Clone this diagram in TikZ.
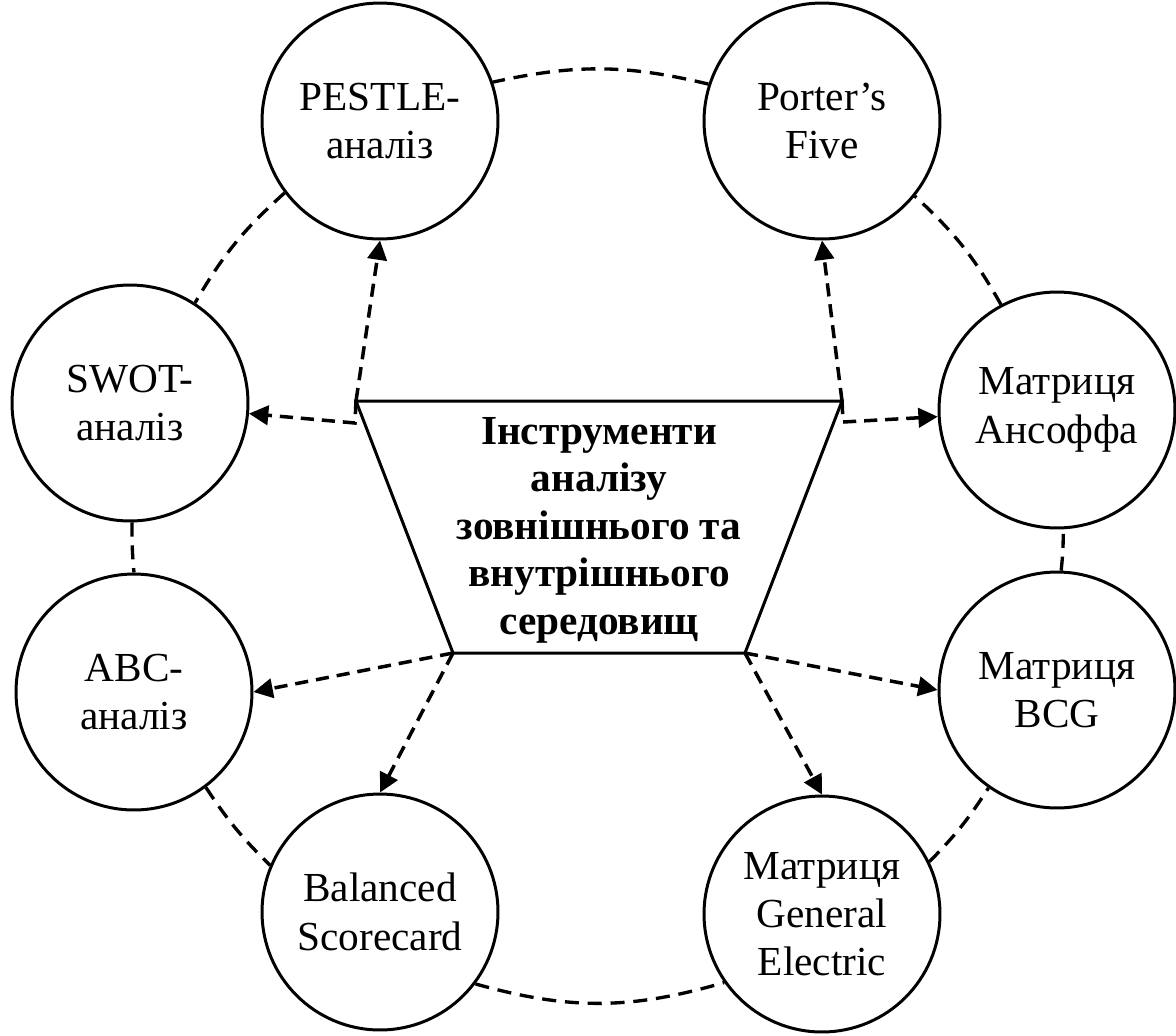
\documentclass[tikz,border=0pt]{standalone}
\usepackage{fontspec}
\setmainfont{Liberation Serif}
\usepackage{tikz}
\usetikzlibrary{arrows.meta,calc}
\tikzstyle{tsText} = [
    text=black,
    font=\fontsize{23.5}{27.5}\selectfont
]
\tikzstyle{tsBoldText} = [
    text=black,
    align=center,
    font=\fontsize{23.5}{27}\selectfont\bfseries
]
\tikzstyle{tsCircle} = [
    circle,
    tsText,
    align=center,
    draw=black,
    fill=white,
    line width=1.7pt,
    minimum size=4.72cm,
    inner sep=0pt
]
\tikzstyle{tsRing} = [
    line width=1.9pt,
    dash pattern=on 8pt off 5pt
]
\tikzstyle{tsArrow} = [
    line width=2pt,
    dash pattern=on 7.5pt off 4.5pt,
    -{Triangle[length=11pt,width=11pt]}
]

\begin{document}
\begin{tikzpicture}[x=0.02cm, y=-0.02cm]

        \useasboundingbox (0,0) rectangle (1176,1035);

        % tools around the centre
        \node[tsCircle] (pestle) at (380,121) {PESTLE-\\аналіз};
        \node[tsCircle] (porter) at (822,121) {Porter’s\\Five};
        \node[tsCircle] (swot)   at (130,403) {SWOT-\\аналіз};
        \node[tsCircle] (ansoff) at (1057,410) {Матриця\\Ансоффа};
        \node[tsCircle] (abc)    at (134,692) {ABC-\\аналіз};
        \node[tsCircle] (bcg)    at (1057,690) {Матриця\\BCG};
        \node[tsCircle] (bsc)    at (380,912) {Balanced\\Scorecard};
        \node[tsCircle] (ge)     at (822,914) {Матриця\\General\\Electric};

        % centre block
        \coordinate (tl) at (356,401);
        \coordinate (tr) at (842,401);
        \coordinate (br) at (745,653);
        \coordinate (bl) at (453,653);
        \draw[line width=1.7pt] (tl) -- (tr) -- (br) -- (bl) -- cycle;
        \node[tsBoldText] (tools) at (599,530)
            {Інструменти\\аналізу\\зовнішнього та\\внутрішнього\\середовищ};

        % outer ring
        \draw[tsRing] (ansoff.118) to[bend right=9] (porter.321);
        \draw[tsRing] (porter.162) to[bend right=13] (pestle.19);
        \draw[tsRing] (pestle.217) to[bend right=9] (swot.57);
        \draw[tsRing] (swot.271) to[bend right=3] (abc.90);
        \draw[tsRing] (abc.307) to[bend right=6] (bsc.157);
        \draw[tsRing] (bsc.323) to[bend right=16] (ge.215);
        \draw[tsRing] (ge.26) to[bend right=6] (bcg.235);
        \draw[tsRing] (bcg.88) to[bend right=3] (ansoff.273);

        % arrows from the centre block
        \draw[tsArrow] (tl) -- (pestle.south);
        \draw[tsArrow] (tl) -- ++(-1,22) -- (swot);
        \draw[tsArrow] (tr) -- (porter.south);
        \draw[tsArrow] (tr) -- ++(1,21) -- (ansoff);
        \draw[tsArrow] (bl) -- (abc.east);
        \draw[tsArrow] (bl) -- (bsc.north);
        \draw[tsArrow] (br) -- (ge.north);
        \draw[tsArrow] (br) -- (bcg.west);

\end{tikzpicture}
\end{document}
